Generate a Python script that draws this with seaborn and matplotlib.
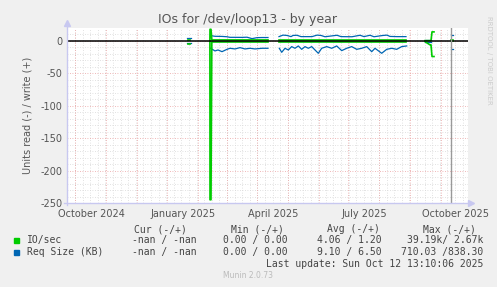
import numpy as np
import pandas as pd
import matplotlib
matplotlib.use("Agg")
import matplotlib.pyplot as plt
import seaborn as sns

# ---------------- data (x = days since start of 400-day window) ----------------
tick_days = [24, 116, 206, 297, 389]
tick_labels = ["October 2024", "January 2025", "April 2025", "July 2025", "October 2025"]
major_days = [8, 39, 70, 100, 131, 160, 190, 221, 252, 281, 312, 343, 374]

# IO/sec (green): write (+) and read (-)
io_w_seg = ["A"] * 2 + ["B"] * 5 + ["C"] * 2 + ["D"] * 4 + ["E"] * 2
io_w_day = [121, 122.5, 142.9, 143, 144, 144.8, 201, 212, 339, 358, 364, 365, 367, 383.5, 385.5]
io_w_val = [1.5, 1.5, 0, 18, 18, 1.6, 1.6, 1.6, 1.6, 0.5, 0.5, 14, 14, 1.5, 1.5]

io_r_seg = ["A"] * 2 + ["B"] * 5 + ["C"] * 2 + ["D"] * 5 + ["E"] * 2
io_r_day = [121, 122.5, 142.9, 143, 144, 144.8, 201, 212, 339, 358, 363, 364, 365, 367, 383.5, 385.5]
io_r_val = [-5, -5, 0, -245, -245, -1.6, -1.6, -1.6, -1.6, -1.0, -6, -6, -24, -24, -0.5, -0.5]

# Req Size (KB) (blue): write (+)
rq_w_seg = (["A"] * 2 + ["B"] * 12 + ["C"] * 23 + ["D"] * 2 + ["E"] * 2)
rq_w_day = ([120, 123.5] +
            [143.7, 148, 155, 160, 163, 168, 175, 180, 185, 190, 195, 201] +
            [212, 216, 220, 224, 226, 230, 234, 245, 250, 254, 258, 270, 274, 285,
             293, 297, 303, 307, 316, 320, 323, 330, 339] +
            [358, 364] + [383.5, 385.5])
rq_w_val = ([5, 5] +
            [8.2, 7.2, 7.0, 6.5, 5.6, 5.6, 5.5, 5.8, 3.6, 5.1, 5.3, 5.3] +
            [6.7, 9.0, 8.5, 6.7, 8.5, 8.8, 6.7, 6.7, 9.0, 8.5, 6.5, 8.8, 6.7, 6.5,
             8.8, 6.7, 8.8, 6.5, 8.5, 9.0, 7.0, 6.7, 6.7] +
            [1.5, 1.5] + [9, 9])

# Req Size (KB) (blue): read (-)
rq_r_seg = (["A"] * 2 + ["B"] * 13 + ["C"] * 31 + ["D"] * 2 + ["E"] * 2)
rq_r_day = ([120, 123.5] +
            [143.7, 148, 151, 155, 160, 163, 168, 173, 178, 183, 188, 195, 201] +
            [212.3, 214.7, 218, 221.3, 224.7, 228, 231.3, 234.7, 238, 241.3, 244.7,
             248, 251.3, 254.7, 259.7, 264.7, 269.7, 274.7, 279.7, 284.7, 289.7,
             294.7, 299.7, 304.7, 308, 314.7, 319.7, 324.7, 329.7, 334.7, 339.7] +
            [358, 364] + [383.5, 385.5])
rq_r_val = ([-3, -3] +
            [-11.3, -15.4, -13.9, -16.5, -12.9, -11.3, -12.3, -10.3, -12.3, -11.3, -12.3, -11.3, -11.3] +
            [-11.3, -17.5, -11.3, -13.9, -8.7, -11.3, -7.7, -12.9, -8.7, -11.3, -8.7,
             -13.9, -19.0, -11.3, -8.7, -11.3, -7.7, -14.9, -11.3, -8.7, -12.9,
             -11.3, -8.7, -16.5, -11.3, -19.0, -12.9, -11.3, -12.9, -8.7, -7.7] +
            [-1.5, -1.5] + [-12, -12])

now_day = 384

legend_rows = [
    ("IO/sec", "-nan / -nan", "0.00 / 0.00", "4.06 / 1.20", "39.19k/ 2.67k"),
    ("Req Size (KB)", "-nan / -nan", "0.00 / 0.00", "9.10 / 6.50", "710.03 /838.30"),
]
col_headers = ["Cur (-/+)", "Min (-/+)", "Avg (-/+)", "Max (-/+)"]

GREEN = "#00CC00"
BLUE = "#0066B3"

# ---------------- figure ----------------
W, H = 497, 287
fig = plt.figure(figsize=(W / 100, H / 100), dpi=100, facecolor="#F0F0F0")
L, R, T, B = 67, 468, 28, 203
ax = fig.add_axes([L / W, 1 - B / H, (R - L) / W, (B - T) / H])
ax.set_facecolor("white")
ax.set_xlim(0, R - L)
ax.set_ylim(-250, 20)
for s in ax.spines.values():
    s.set_visible(False)

# grid
for y in range(-240, 20, 10):
    if y % 50 == 0:
        continue
    ax.axhline(y, color="#d8d8d8", lw=0.6, ls=(0, (1, 2)), zorder=0)
for y in range(-200, 1, 50):
    ax.axhline(y, color="#eaa0a0", lw=0.6, ls=(0, (1, 2)), zorder=0.5)
minor = np.arange(0.4, R - L, 7.6)
for d in minor:
    ax.axvline(d, color="#d8d8d8", lw=0.6, ls=(0, (1, 2)), zorder=0)
for d in major_days:
    ax.axvline(d, color="#eaa0a0", lw=0.6, ls=(0, (1, 2)), zorder=0.5)

# series
def draw(seg, day, val, color, lw):
    df = pd.DataFrame({"seg": seg, "day": day, "val": val})
    sns.lineplot(data=df, x="day", y="val", units="seg", estimator=None,
                 sort=False, color=color, lw=lw, ax=ax, legend=False, zorder=3)

draw(rq_w_seg, rq_w_day, rq_w_val, BLUE, 0.9)
draw(rq_r_seg, rq_r_day, rq_r_val, BLUE, 0.9)
draw(io_w_seg, io_w_day, io_w_val, GREEN, 1.2)
draw(io_r_seg, io_r_day, io_r_val, GREEN, 1.2)
ax.axhline(0, color="black", lw=1.1, zorder=4)
ax.axvline(now_day, color="#999999", lw=1.0, zorder=5)

# axis lines with arrows
ax.plot([0, 0], [-253, 27], color="#c8c8f0", lw=1, clip_on=False, zorder=6)
ax.plot([0], [28], marker="^", color="#c8c8f0", ms=4, clip_on=False, zorder=6)
ax.plot([-3, R - L + 2], [-250, -250], color="#c8c8f0", lw=1, clip_on=False, zorder=6)
ax.plot([R - L + 3], [-250], marker=">", color="#c8c8f0", ms=4, clip_on=False, zorder=6)

ax.set_xticks(tick_days)
ax.set_xticklabels(tick_labels)
ax.set_yticks(range(-250, 1, 50))
ax.set_yticklabels([str(v) for v in range(-250, 1, 50)])
ax.tick_params(length=0, labelsize=7, labelcolor="#555555", pad=3)
ax.tick_params(axis="x", pad=4)
ax.set_xlabel("")
ax.set_ylabel("Units read (-) / write (+)", fontsize=7, color="#555555", labelpad=6)

fig.text(248 / W, 1 - 19 / H, "IOs for /dev/loop13 - by year", ha="center", va="center",
         fontsize=9, color="#555555")
fig.text(489 / W, 1 - 60 / H, "RRDTOOL / TOBI OETIKER", ha="center", va="center",
         rotation=270, fontsize=5, color="#cccccc")

# legend block
mono = "DejaVu Sans Mono"
hx = [134, 231, 327, 423]
for x, h in zip(hx, col_headers):
    fig.text(x / W, 1 - 229 / H, h, ha="left", va="center", fontsize=7, family=mono, color="#444444")
row_y = [240, 252]
cols_x = [132, 223, 317]
for (name, c1, c2, c3, c4), y, col in zip(legend_rows, row_y, [GREEN, BLUE]):
    fig.patches.append(plt.Rectangle((14 / W, 1 - (y + 3) / H), 5 / W, 5 / H,
                                     transform=fig.transFigure, color=col, figure=fig))
    fig.text(27 / W, 1 - y / H, name, ha="left", va="center", fontsize=7, family=mono, color="#444444")
    for x, t in zip(cols_x, [c1, c2, c3]):
        fig.text(x / W, 1 - y / H, t, ha="left", va="center", fontsize=7, family=mono, color="#444444")
    fig.text(483 / W, 1 - y / H, c4, ha="right", va="center", fontsize=7, family=mono, color="#444444")
fig.text(483 / W, 1 - 264 / H, "Last update: Sun Oct 12 13:10:06 2025", ha="right", va="center",
         fontsize=7, family=mono, color="#444444")
fig.text(248 / W, 1 - 276 / H, "Munin 2.0.73", ha="center", va="center", fontsize=5.5,
         color="#bbbbbb")

fig.savefig("out.png", dpi=100, facecolor=fig.get_facecolor())
